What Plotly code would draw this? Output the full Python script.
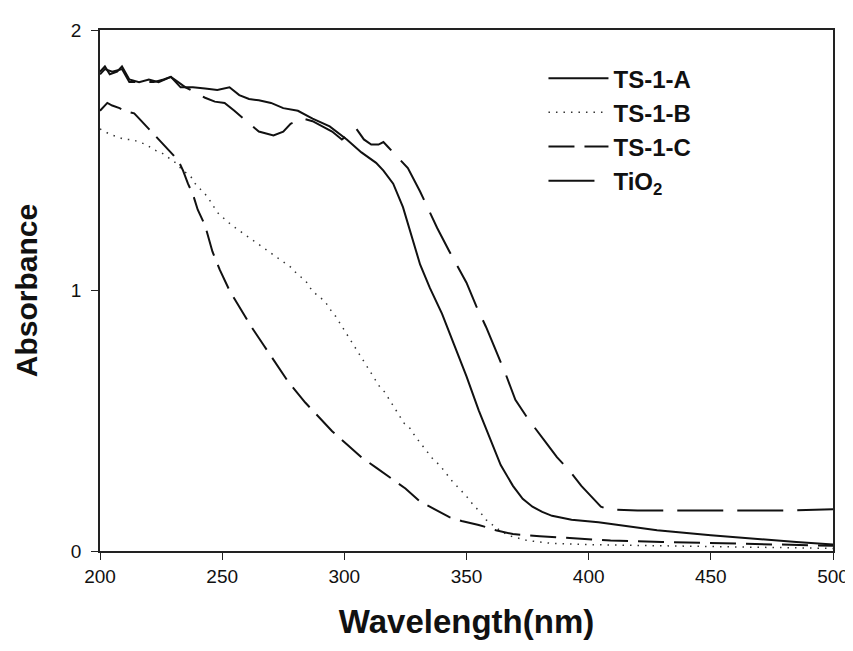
import plotly.graph_objects as go

# ---- data ----
wl_a = [200, 202, 204, 207, 209, 212, 216, 220, 224, 229, 233, 238, 243, 248, 253, 257, 261, 265, 270, 275,
        281, 287, 294, 301, 307, 313, 316, 320, 324, 328, 331, 335, 340, 345, 350, 355, 360, 364, 369, 373,
        377, 381, 385, 393, 404, 415, 428, 450, 469, 485, 500]
abs_a = [1.84, 1.86, 1.83, 1.84, 1.86, 1.81, 1.80, 1.81, 1.80, 1.82, 1.78, 1.78, 1.775, 1.77, 1.78, 1.75, 1.735, 1.73, 1.72, 1.70,
         1.69, 1.66, 1.63, 1.58, 1.53, 1.49, 1.46, 1.41, 1.32, 1.19, 1.10, 1.01, 0.91, 0.79, 0.67, 0.54, 0.42, 0.33, 0.25, 0.20,
         0.17, 0.15, 0.135, 0.12, 0.11, 0.095, 0.08, 0.06, 0.045, 0.035, 0.025]

wl_b = [200, 204, 207, 210, 213, 219, 222, 225, 228, 231, 234, 237, 239, 242, 244, 246, 248, 251.5, 254, 257,
        260, 263.5, 266, 269.5, 272, 275, 278, 281, 284, 286, 289, 292, 294, 296.5, 298.5, 300.5, 302.5, 304.5,
        306.5, 308.5, 310.5, 312.5, 314.5, 316.5, 318.5, 320.5, 322.5, 324.5, 327, 329, 331.5, 334, 336.5, 339,
        341.5, 344, 347, 350, 352.5, 355.5, 358, 362, 367, 375, 384, 398, 430, 460, 500]
abs_b = [1.62, 1.60, 1.59, 1.58, 1.58, 1.56, 1.54, 1.53, 1.51, 1.49, 1.46, 1.44, 1.41, 1.38, 1.36, 1.33, 1.30, 1.27, 1.25, 1.23,
         1.21, 1.19, 1.17, 1.15, 1.13, 1.11, 1.09, 1.06, 1.04, 1.01, 0.98, 0.96, 0.93, 0.90, 0.87, 0.84, 0.81, 0.78,
         0.75, 0.72, 0.69, 0.66, 0.63, 0.61, 0.58, 0.55, 0.52, 0.49, 0.47, 0.44, 0.41, 0.38, 0.35, 0.33,
         0.30, 0.27, 0.24, 0.21, 0.18, 0.15, 0.12, 0.09, 0.06, 0.04, 0.03, 0.025, 0.02, 0.015, 0.01]

wl_c = [200, 203, 205, 208, 210, 214, 217, 220, 224, 227, 230, 232.5, 234, 236, 238, 240, 243, 246, 249, 253,
        258, 262, 267, 272, 277, 284, 290, 295, 301, 307, 313, 319, 325, 331, 337, 343, 348, 355, 362, 369,
        380, 391, 409, 430, 450, 475, 500]
abs_c = [1.69, 1.72, 1.71, 1.70, 1.69, 1.68, 1.65, 1.62, 1.58, 1.55, 1.52, 1.49, 1.46, 1.41, 1.37, 1.31, 1.25, 1.15, 1.08, 1.00,
         0.92, 0.86, 0.79, 0.72, 0.65, 0.57, 0.51, 0.46, 0.41, 0.36, 0.32, 0.28, 0.24, 0.19, 0.16, 0.13, 0.115, 0.10, 0.08, 0.065,
         0.057, 0.05, 0.04, 0.035, 0.03, 0.025, 0.02]

wl_t = [200, 202, 205, 209, 212, 216, 222, 226, 229, 232, 235, 239, 243, 247, 251, 255, 261, 265, 271, 275,
        278, 283, 287, 291, 295, 299, 305, 308, 311, 314, 316, 318, 321, 326, 331, 335, 338, 343, 347, 350,
        354, 358, 362, 366, 370, 375, 383, 387, 392, 397, 402, 405, 408, 420, 440, 460, 480, 500]
abs_t = [1.83, 1.85, 1.84, 1.85, 1.80, 1.80, 1.80, 1.81, 1.82, 1.80, 1.78, 1.76, 1.74, 1.725, 1.72, 1.69, 1.64, 1.61, 1.595, 1.61,
         1.64, 1.66, 1.65, 1.63, 1.61, 1.58, 1.62, 1.58, 1.56, 1.56, 1.57, 1.55, 1.52, 1.47, 1.38, 1.30, 1.24, 1.15, 1.08, 1.03,
         0.94, 0.86, 0.77, 0.68, 0.58, 0.51, 0.41, 0.36, 0.31, 0.25, 0.20, 0.17, 0.16, 0.155, 0.155, 0.155, 0.155, 0.16]

names = ["TS-1-A", "TS-1-B", "TS-1-C", "TiO<sub>2</sub>"]
x_ticks = [200, 250, 300, 350, 400, 450, 500]
y_ticks = [0, 1, 2]

FONT = "Liberation Sans, Arial, sans-serif"
INK = "#111111"

fig = go.Figure()
series = [
    (wl_a, abs_a, names[0], dict(color=INK, width=2, dash="solid")),
    (wl_b, abs_b, names[1], dict(color="#333333", width=1.5, dash="1.5px,6px")),
    (wl_c, abs_c, names[2], dict(color=INK, width=2, dash="26px,10px")),
    (wl_t, abs_t, names[3], dict(color=INK, width=2, dash="46px,14px")),
]
for x, y, n, ln in series:
    fig.add_trace(go.Scatter(x=x, y=y, name=n, mode="lines", line=ln))

axis_common = dict(showline=True, linecolor="#222222", linewidth=1.5, mirror=True,
                   ticks="outside", ticklen=7, tickwidth=1.2, tickcolor="#222222",
                   showgrid=False, zeroline=False,
                   tickfont=dict(family=FONT, size=19, color=INK))

fig.update_layout(
    width=853, height=651,
    paper_bgcolor="white", plot_bgcolor="white",
    margin=dict(l=92, r=18, t=21, b=108),
    font=dict(family=FONT, color=INK),
    xaxis=dict(range=[200, 500], tickvals=x_ticks,
               title=dict(text="<b>Wavelength(nm)</b>", font=dict(family=FONT, size=33, color=INK), standoff=24),
               **axis_common),
    yaxis=dict(range=[0, 2], tickvals=y_ticks, ticklabelstandoff=6,
               title=dict(text="<b>Absorbance</b>", font=dict(family=FONT, size=30, color=INK), standoff=24),
               **axis_common),
    legend=dict(x=0.605, y=0.95, xanchor="left", yanchor="top",
                bgcolor="rgba(0,0,0,0)", borderwidth=0,
                itemwidth=60,
                font=dict(family=FONT, size=24, color=INK, weight="bold")),
    showlegend=True,
)

fig.write_html("out.html")
